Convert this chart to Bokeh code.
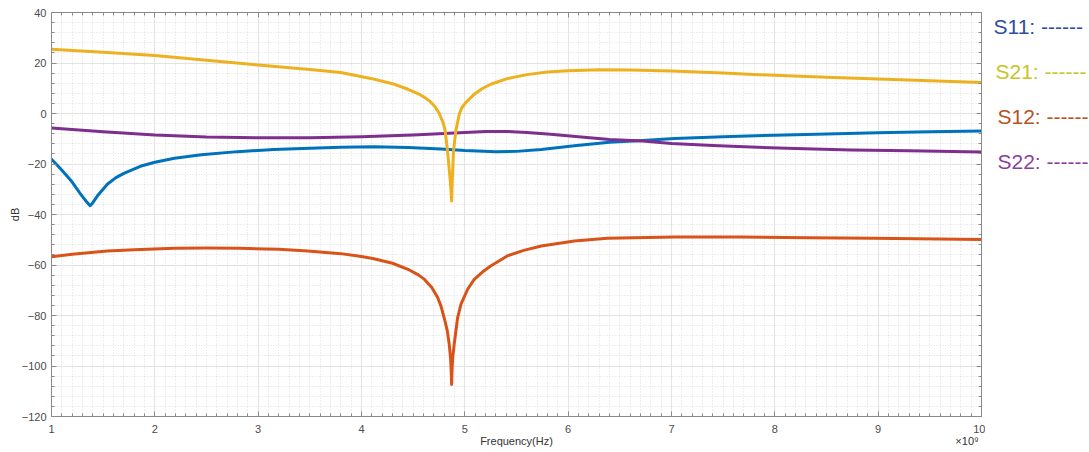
from bokeh.plotting import figure
from bokeh.layouts import row
from bokeh.models import (Range1d, SingleIntervalTicker, LinearAxis, FixedTicker,
                          CustomJSTickFormatter)
from bokeh.core.properties import value
from bokeh.embed import file_html
from bokeh.resources import INLINE

# ---- data (frequency in GHz, i.e. x 10^9 Hz; magnitude in dB) ----
s11_freq = [1.0, 1.09, 1.19, 1.28, 1.34, 1.374, 1.40, 1.445, 1.54, 1.62, 1.70, 1.86, 2.0, 2.19,
            2.45, 2.8, 3.15, 3.5, 3.8, 4.12, 4.45, 4.77, 5.0, 5.3, 5.5, 5.74, 6.06, 6.4, 6.72,
            7.03, 7.5, 8.0, 8.5, 9.0, 9.5, 10.0]
s11_db = [-18.1, -22.0, -26.6, -31.8, -35.0, -36.5, -35.3, -32.6, -28.0, -25.5, -23.7, -20.9,
          -19.3, -17.7, -16.3, -15.1, -14.3, -13.8, -13.4, -13.2, -13.5, -14.1, -14.7, -15.1,
          -15.0, -14.3, -12.8, -11.4, -10.7, -9.9, -9.2, -8.6, -8.1, -7.6, -7.2, -6.9]

s21_freq = [1.0, 1.5, 2.0, 2.5, 3.0, 3.5, 3.8, 4.1, 4.3, 4.45, 4.55, 4.61, 4.66, 4.71, 4.75,
            4.79, 4.81, 4.833, 4.859, 4.866, 4.872, 4.878, 4.89, 4.913, 4.946, 4.97, 5.01, 5.05,
            5.09, 5.17, 5.25, 5.41, 5.6, 5.8, 6.0, 6.3, 6.6, 7.0, 7.5, 8.0, 8.5, 9.0, 9.5, 10.0]
s21_db = [25.4, 24.3, 23.0, 21.1, 19.2, 17.4, 16.2, 13.8, 11.8, 9.6, 7.8, 6.4, 4.9, 2.8, 0.2,
          -3.6, -6.9, -14.9, -26.7, -30.5, -34.7, -27.0, -15.0, -6.9, -0.3, 2.3, 4.3, 6.0,
          7.6, 9.9, 11.6, 13.8, 15.4, 16.4, 16.9, 17.3, 17.2, 16.8, 16.0, 15.1, 14.4, 13.7, 13.0,
          12.3]

s12_freq = [1.0, 1.2, 1.54, 1.8, 2.19, 2.5, 2.83, 3.2, 3.48, 3.8, 4.0, 4.12, 4.3, 4.45, 4.55,
            4.61, 4.68, 4.737, 4.77, 4.80, 4.83, 4.849, 4.862, 4.868, 4.872, 4.876, 4.882, 4.897,
            4.93, 4.962, 5.027, 5.091, 5.17, 5.25, 5.41, 5.57, 5.74, 6.06, 6.38, 7.03, 7.67,
            8.32, 8.96, 9.79, 10.0]
s12_db = [-56.7, -55.7, -54.5, -54.0, -53.4, -53.3, -53.4, -53.8, -54.5, -55.5, -56.6, -57.5,
          -59.3, -61.7, -63.9, -65.7, -68.9, -72.9, -76.4, -80.9, -86.0, -91.4, -97.0, -102.0,
          -107.3, -102.0, -97.0, -91.4, -80.9, -75.6, -69.6, -65.7, -62.8, -60.4, -56.4, -54.2,
          -52.5, -50.5, -49.4, -48.9, -48.9, -49.2, -49.4, -49.8, -49.9]

s22_freq = [1.0, 1.5, 2.0, 2.5, 3.0, 3.5, 4.0, 4.5, 4.9, 5.2, 5.4, 5.6, 5.83, 6.1, 6.4, 6.72,
            7.0, 7.4, 7.77, 8.2, 8.74, 9.3, 10.0]
s22_db = [-5.7, -7.2, -8.5, -9.3, -9.6, -9.6, -9.2, -8.5, -7.7, -7.1, -7.1, -7.5, -8.2, -9.2,
          -10.3, -10.9, -11.9, -12.7, -13.3, -13.9, -14.5, -14.8, -15.2]

series_names = ["S11", "S21", "S12", "S22"]
line_colors = ["#0072BD", "#EDB120", "#D95319", "#7E2F8E"]
legend_colors = ["#2c4da3", "#c6c526", "#b5531f", "#8b3f9e"]
legend_texts = [f"{n}: ------" for n in series_names]

x_min, x_max, x_step = 1, 10, 1
y_min, y_max, y_step = -120, 40, 20
x_title = "Frequency(Hz)"
y_title = "dB"
x_exponent = "\u00d710\u2079"

FONT = "Liberation Sans"
AXIS_GREY = "#8a8a8a"

p = figure(width=985, height=452, output_backend="svg", toolbar_location=None,
           x_range=Range1d(x_min, x_max), y_range=Range1d(y_min, y_max),
           min_border_left=51, min_border_right=4, min_border_top=12, min_border_bottom=36,
           background_fill_color="white", border_fill_color="white",
           outline_line_color=AXIS_GREY, outline_line_width=1)

xt = SingleIntervalTicker(interval=x_step, num_minor_ticks=10)
yt = SingleIntervalTicker(interval=y_step, num_minor_ticks=5)
p.xaxis.ticker = xt
p.yaxis.ticker = yt
p.xgrid.ticker = xt
p.ygrid.ticker = yt


def style_axis(ax):
    ax.axis_line_color = AXIS_GREY
    ax.major_tick_line_color = AXIS_GREY
    ax.minor_tick_line_color = AXIS_GREY
    ax.major_tick_in = 5
    ax.major_tick_out = 0
    ax.minor_tick_in = 3
    ax.minor_tick_out = 0
    ax.major_label_text_color = "#4a4a4a"
    ax.major_label_text_font = FONT
    ax.major_label_text_font_size = "11px"
    ax.axis_label_text_color = "#333333"
    ax.axis_label_text_font = FONT
    ax.axis_label_text_font_size = "11px"
    ax.axis_label_text_font_style = "normal"


for ax in p.xaxis + p.yaxis:
    style_axis(ax)
p.yaxis.axis_label = y_title
p.xaxis.major_label_standoff = 8
p.yaxis.major_label_standoff = 5
p.yaxis.axis_label_standoff = -2

# second bottom axis carrying the axis title and the x10^9 exponent on one line
title_axis = LinearAxis(ticker=FixedTicker(ticks=[(x_min + x_max) / 2, 9.86], minor_ticks=[]),
                        major_label_overrides={(x_min + x_max) / 2: x_title, 9.86: x_exponent})
style_axis(title_axis)
title_axis.axis_line_color = None
title_axis.major_tick_line_color = None
title_axis.minor_tick_line_color = None
title_axis.major_label_text_color = "#333333"
title_axis.major_label_standoff = -1
p.add_layout(title_axis, "below")

blank = CustomJSTickFormatter(code="return ''")
for loc in ["above", "right"]:
    ax = LinearAxis(ticker=xt if loc == "above" else yt, formatter=blank)
    style_axis(ax)
    ax.major_label_standoff = 0
    p.add_layout(ax, loc)

for g in (p.xgrid[0], p.ygrid[0]):
    g.grid_line_color = "#e3e3e3"
    g.grid_line_width = 1
    g.minor_grid_line_color = "#d6d6d6"
    g.minor_grid_line_dash = "1 2"
    g.minor_grid_line_alpha = 0.8

data = {"S11": (s11_freq, s11_db), "S21": (s21_freq, s21_db),
        "S12": (s12_freq, s12_db), "S22": (s22_freq, s22_db)}
for name in ["S11", "S12", "S22", "S21"]:
    i = series_names.index(name)
    f, d = data[name]
    p.line(f, d, line_color=line_colors[i], line_width=3, line_join="round", line_cap="round")

# legend strip on the right; its frame is aligned with the main frame, so it
# shares the dB scale vertically (x in pixels from the strip's left edge)
leg = figure(width=104, height=452, output_backend="svg", toolbar_location=None,
             x_range=Range1d(0, 104), y_range=Range1d(y_min, y_max),
             min_border_left=0, min_border_right=0, min_border_top=12, min_border_bottom=36,
             x_axis_location=None, y_axis_location=None,
             outline_line_color=None, background_fill_color="white", border_fill_color="white")
leg.grid.visible = False
leg.text(x=[8, 10, 12, 12], y=[34.6, 16.8, -1.3, -19.1], text=legend_texts,
         text_color=legend_colors, text_font=value(FONT), text_font_size="21px",
         text_baseline="middle", text_align="left")

layout = row(p, leg, spacing=0)
open("out.html", "w").write(file_html(layout, INLINE))
